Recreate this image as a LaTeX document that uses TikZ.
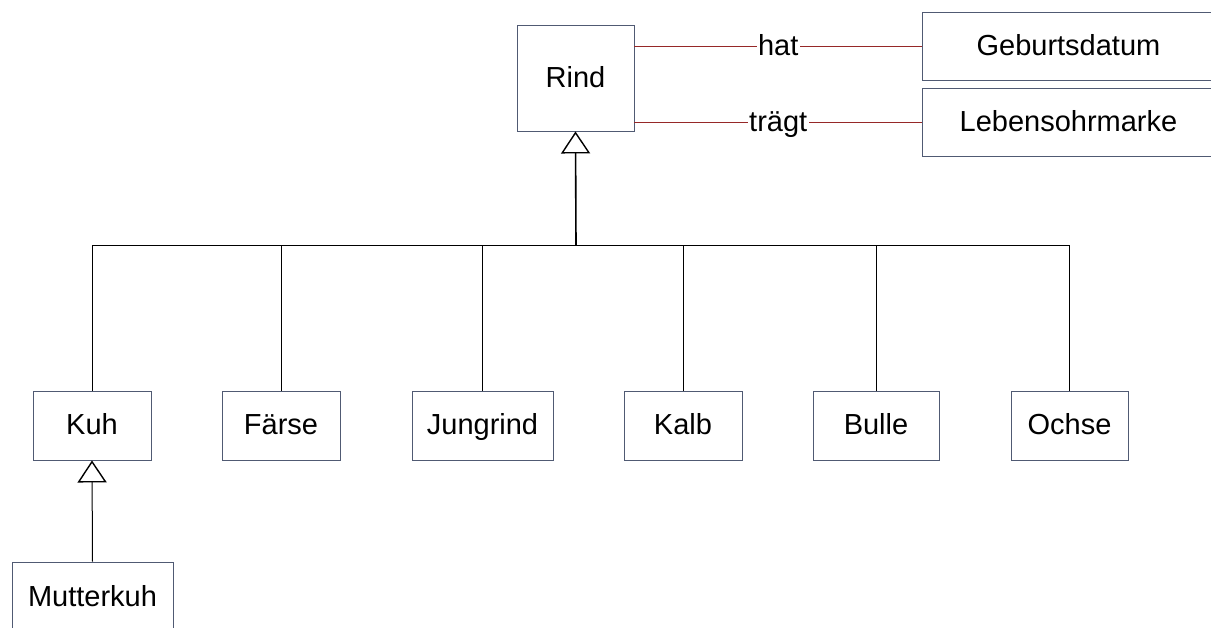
\documentclass[tikz,border=0pt]{standalone}
\usepackage{fontspec}
\setmainfont{Liberation Sans}
\usetikzlibrary{arrows.meta}

\definecolor{boxline}{RGB}{80,90,115}
\definecolor{assoc}{RGB}{150,40,40}

\tikzset{
  txt/.style={font=\fontsize{29}{34}\selectfont, text height=22pt, text depth=4pt},
  cls/.style={txt, draw=boxline, line width=0.9pt, fill=white, inner sep=0pt},
  link/.style={draw=black, line width=0.9pt},
  gen/.style={draw=black, line width=1.6pt,
              -{Triangle[open, length=22pt, width=29pt, line width=1.4pt]}},
  rel/.style={draw=assoc, line width=0.9pt},
  rellabel/.style={txt, fill=white, inner xsep=1.5pt, inner ysep=0pt}
}

\begin{document}
\begin{tikzpicture}[x=1pt, y=-1pt]
  \useasboundingbox (0,0) rectangle (1211,627);

  % superclass and its attributes (the attribute boxes run past the right edge)
  \node[cls, minimum width=117pt, minimum height=106pt] (rind) at (575.5,78) {Rind};
  \node[cls, minimum height=68pt, anchor=west] (geb) at (922,46)
    {\makebox[292pt]{Geburtsdatum}\hspace*{10pt}};
  \node[cls, minimum height=68pt, anchor=west] (leb) at (922,122)
    {\makebox[292pt]{Lebensohrmarke}\hspace*{10pt}};

  % associations
  \draw[rel] (geb.west -| rind.east) -- node[rellabel] (hat) {hat} (geb.west);
  \draw[rel] (leb.west -| rind.east) -- node[rellabel] (traegt) {trägt} (leb.west);

  % subclasses
  \node[cls, minimum width=118pt, minimum height=69pt] (kuh)    at (92,425.5)    {Kuh};
  \node[cls, minimum width=118pt, minimum height=69pt] (faerse) at (281,425.5)   {Färse};
  \node[cls, minimum width=141pt, minimum height=69pt] (jung)   at (482.5,425.5) {Jungrind};
  \node[cls, minimum width=118pt, minimum height=69pt] (kalb)   at (683,425.5)   {Kalb};
  \node[cls, minimum width=126pt, minimum height=69pt] (bulle)  at (876,425.5)   {Bulle};
  \node[cls, minimum width=117pt, minimum height=69pt] (ochse)  at (1069.5,425.5) {Ochse};
  \node[cls, minimum width=161pt, minimum height=70pt] (mutter) at (92.5,597)    {Mutterkuh};

  % inheritance tree
  \coordinate (bus) at (576,245);
  \draw[link] (kuh.north) -- (kuh.north |- bus) -- (ochse.north |- bus) -- (ochse.north);
  \foreach \n in {faerse, jung, kalb, bulle}
    \draw[link] (\n.north) -- (\n.north |- bus);
  \draw[gen] (bus) -- (rind.south);
  \draw[gen, line width=1pt] (mutter.north) -- (kuh.south);
\end{tikzpicture}
\end{document}
